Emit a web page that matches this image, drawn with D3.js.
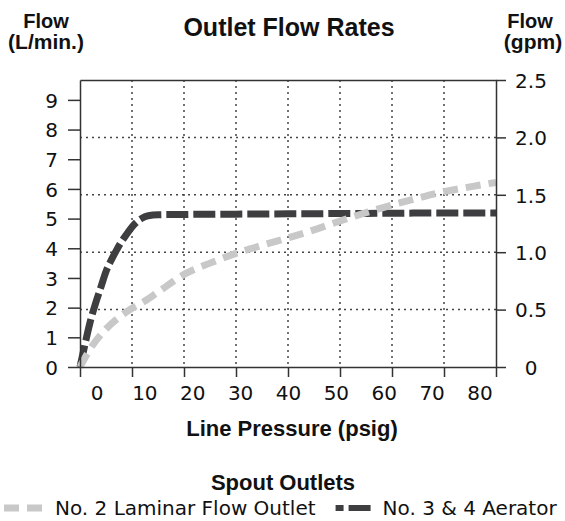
<!DOCTYPE html>
<html>
<head>
<meta charset="utf-8">
<script src="https://cdn.jsdelivr.net/npm/d3@7"></script>
<style>
  html, body { margin: 0; padding: 0; background: #fff; }
  svg { display: block; }
  text { fill: #111; }
  .reg { font-family: "DejaVu Sans", sans-serif; font-size: 20px; }
  .bold { font-family: "Liberation Sans", Arial, sans-serif; font-weight: bold; }
</style>
</head>
<body>
<svg id="chart" width="565" height="521"></svg>
<script>
// ---------------- Data ----------------
const pressureTicks = [0, 10, 20, 30, 40, 50, 60, 70, 80];
const litreTicks = [0, 1, 2, 3, 4, 5, 6, 7, 8, 9];
const gpmTicks = [0, 0.5, 1.0, 1.5, 2.0, 2.5];
const gpmTickLabels = ["0", "0.5", "1.0", "1.5", "2.0", "2.5"];

// No. 2 Laminar Flow Outlet (psig -> L/min)
const laminarPressure = [0, 2, 5, 8, 10, 12, 15, 20, 25, 30, 35, 40, 45, 50, 55, 60, 65, 70, 75, 80];
const laminarFlow     = [0, 0.62, 1.28, 1.74, 1.98, 2.17, 2.52, 3.12, 3.5, 3.83, 4.1, 4.35, 4.62, 4.92, 5.2, 5.46, 5.69, 5.91, 6.07, 6.22];

// No. 3 & 4 Aerator (psig -> L/min)
const aeratorPressure = [0, 1, 2, 3, 4, 5, 6, 7, 8, 9, 10, 11, 12, 13, 14, 15, 20, 30, 40, 50, 60, 70, 80];
const aeratorFlow     = [0, 0.8, 1.55, 2.15, 2.68, 3.22, 3.6, 3.93, 4.23, 4.48, 4.72, 4.9, 5.02, 5.09, 5.12, 5.13, 5.14, 5.15, 5.16, 5.17, 5.18, 5.19, 5.19];

const seriesNames = ["No. 2 Laminar Flow Outlet", "No. 3 & 4 Aerator"];

// ---------------- Layout ----------------
const svg = d3.select("#chart");
const mLeft = 80, mRight = 496, mTop = 80, mBottom = 367;
const axisColor = "#333";
const darkColor = "#3e3e40";
const lightColor = "#c8c8c8";
const lightDash = "15,8", darkDash = "22,5";

const x = d3.scaleLinear().domain([0, 80]).range([mLeft, mRight]);
const xLabel = d3.scaleLinear().domain([0, 80]).range([mLeft + 17, mRight - 16]);
const yR = d3.scaleLinear().domain([0, 2.5]).range([mBottom, mTop]);
const yL = d3.scaleLinear().domain([0, 9.67]).range([mBottom, mTop]);

// ---------------- Grid ----------------
const grid = svg.append("g").attr("stroke", "#444").attr("stroke-width", 1.5)
  .attr("stroke-dasharray", "2,4");
grid.selectAll("line.v").data(pressureTicks.filter(d => d > 0 && d < 80)).join("line")
  .attr("class", "v")
  .attr("x1", d => x(d)).attr("x2", d => x(d))
  .attr("y1", mTop).attr("y2", mBottom);
grid.selectAll("line.h").data(gpmTicks.filter(d => d > 0 && d < 2.5)).join("line")
  .attr("class", "h")
  .attr("x1", mLeft).attr("x2", mRight)
  .attr("y1", d => yR(d)).attr("y2", d => yR(d));

// ---------------- Lines ----------------
const line = d3.line().x(d => x(d[0])).y(d => yL(d[1])).curve(d3.curveMonotoneX);
const laminar = laminarPressure.map((p, i) => [p, laminarFlow[i]]);
const aerator = aeratorPressure.map((p, i) => [p, aeratorFlow[i]]);

svg.append("path").datum(aerator).attr("d", line)
  .attr("fill", "none").attr("stroke", darkColor).attr("stroke-width", 7)
  .attr("stroke-dasharray", darkDash);
svg.append("path").datum(laminar).attr("d", line)
  .attr("fill", "none").attr("stroke", lightColor).attr("stroke-width", 7)
  .attr("stroke-dasharray", lightDash);

// ---------------- Axes ----------------
function styleAxis(g) {
  g.selectAll("path, line").attr("stroke", axisColor).attr("stroke-width", 1.5);
  g.selectAll("text").attr("class", "reg").attr("fill", "#111")
    .attr("font-family", null).attr("font-size", null);
}

const gLeft = svg.append("g").attr("transform", `translate(${mLeft},0)`)
  .call(d3.axisLeft(yL).tickValues(litreTicks).tickSize(12).tickSizeOuter(0).tickPadding(10).tickFormat(d3.format("d")));
styleAxis(gLeft);
gLeft.selectAll("text").attr("dy", "0.36em");

const gRight = svg.append("g").attr("transform", `translate(${mRight},0)`)
  .call(d3.axisRight(yR).tickValues(gpmTicks).tickSize(10).tickSizeOuter(0)
    .tickFormat((d, i) => gpmTickLabels[i]));
styleAxis(gRight);
gRight.selectAll("text").attr("x", 35).attr("text-anchor", "middle").attr("dy", "0.36em");

const gBottom = svg.append("g").attr("transform", `translate(0,${mBottom})`)
  .call(d3.axisBottom(x).tickValues(pressureTicks).tickSize(10).tickSizeOuter(0).tickFormat(""));
styleAxis(gBottom);

const gTop = svg.append("g").attr("transform", `translate(0,${mTop})`)
  .call(d3.axisTop(x).tickValues([]).tickSizeOuter(0));
styleAxis(gTop);

// x tick labels (offset positions as in the reference)
svg.append("g").selectAll("text").data(pressureTicks).join("text")
  .attr("class", "reg")
  .attr("x", d => xLabel(d)).attr("y", mBottom + 33)
  .attr("text-anchor", "middle")
  .text(d => d);

// ---------------- Titles ----------------
svg.append("text").attr("class", "bold").attr("x", 289).attr("y", 36).attr("text-anchor", "middle")
  .style("font-size", "25px").text("Outlet Flow Rates");

svg.append("text").attr("class", "bold").attr("x", 46).attr("y", 28).attr("text-anchor", "middle")
  .style("font-size", "20px").text("Flow");
svg.append("text").attr("class", "bold").attr("x", 46).attr("y", 49).attr("text-anchor", "middle")
  .style("font-size", "21px").text("(L/min.)");

svg.append("text").attr("class", "bold").attr("x", 530).attr("y", 28).attr("text-anchor", "middle")
  .style("font-size", "20px").text("Flow");
svg.append("text").attr("class", "bold").attr("x", 533).attr("y", 49).attr("text-anchor", "middle")
  .style("font-size", "21px").text("(gpm)");

svg.append("text").attr("class", "bold").attr("x", 292).attr("y", 436).attr("text-anchor", "middle")
  .style("font-size", "22px").text("Line Pressure (psig)");

// ---------------- Legend ----------------
svg.append("text").attr("class", "bold").attr("x", 283).attr("y", 490).attr("text-anchor", "middle")
  .style("font-size", "22px").text("Spout Outlets");

const legY = 508;
svg.append("line").attr("x1", 4).attr("x2", 42).attr("y1", legY).attr("y2", legY)
  .attr("stroke", lightColor).attr("stroke-width", 7).attr("stroke-dasharray", lightDash);
const t1 = svg.append("text").attr("class", "reg").attr("x", 55).attr("y", legY + 7).text(seriesNames[0]);
const sw2 = 55 + t1.node().getComputedTextLength() + 20;
svg.append("line").attr("x1", sw2).attr("x2", sw2 + 35).attr("y1", legY).attr("y2", legY)
  .attr("stroke", darkColor).attr("stroke-width", 6).attr("stroke-dasharray", darkDash)
  .attr("stroke-dashoffset", 14);
svg.append("text").attr("class", "reg").attr("x", sw2 + 35 + 12).attr("y", legY + 7).text(seriesNames[1]);
</script>
</body>
</html>
